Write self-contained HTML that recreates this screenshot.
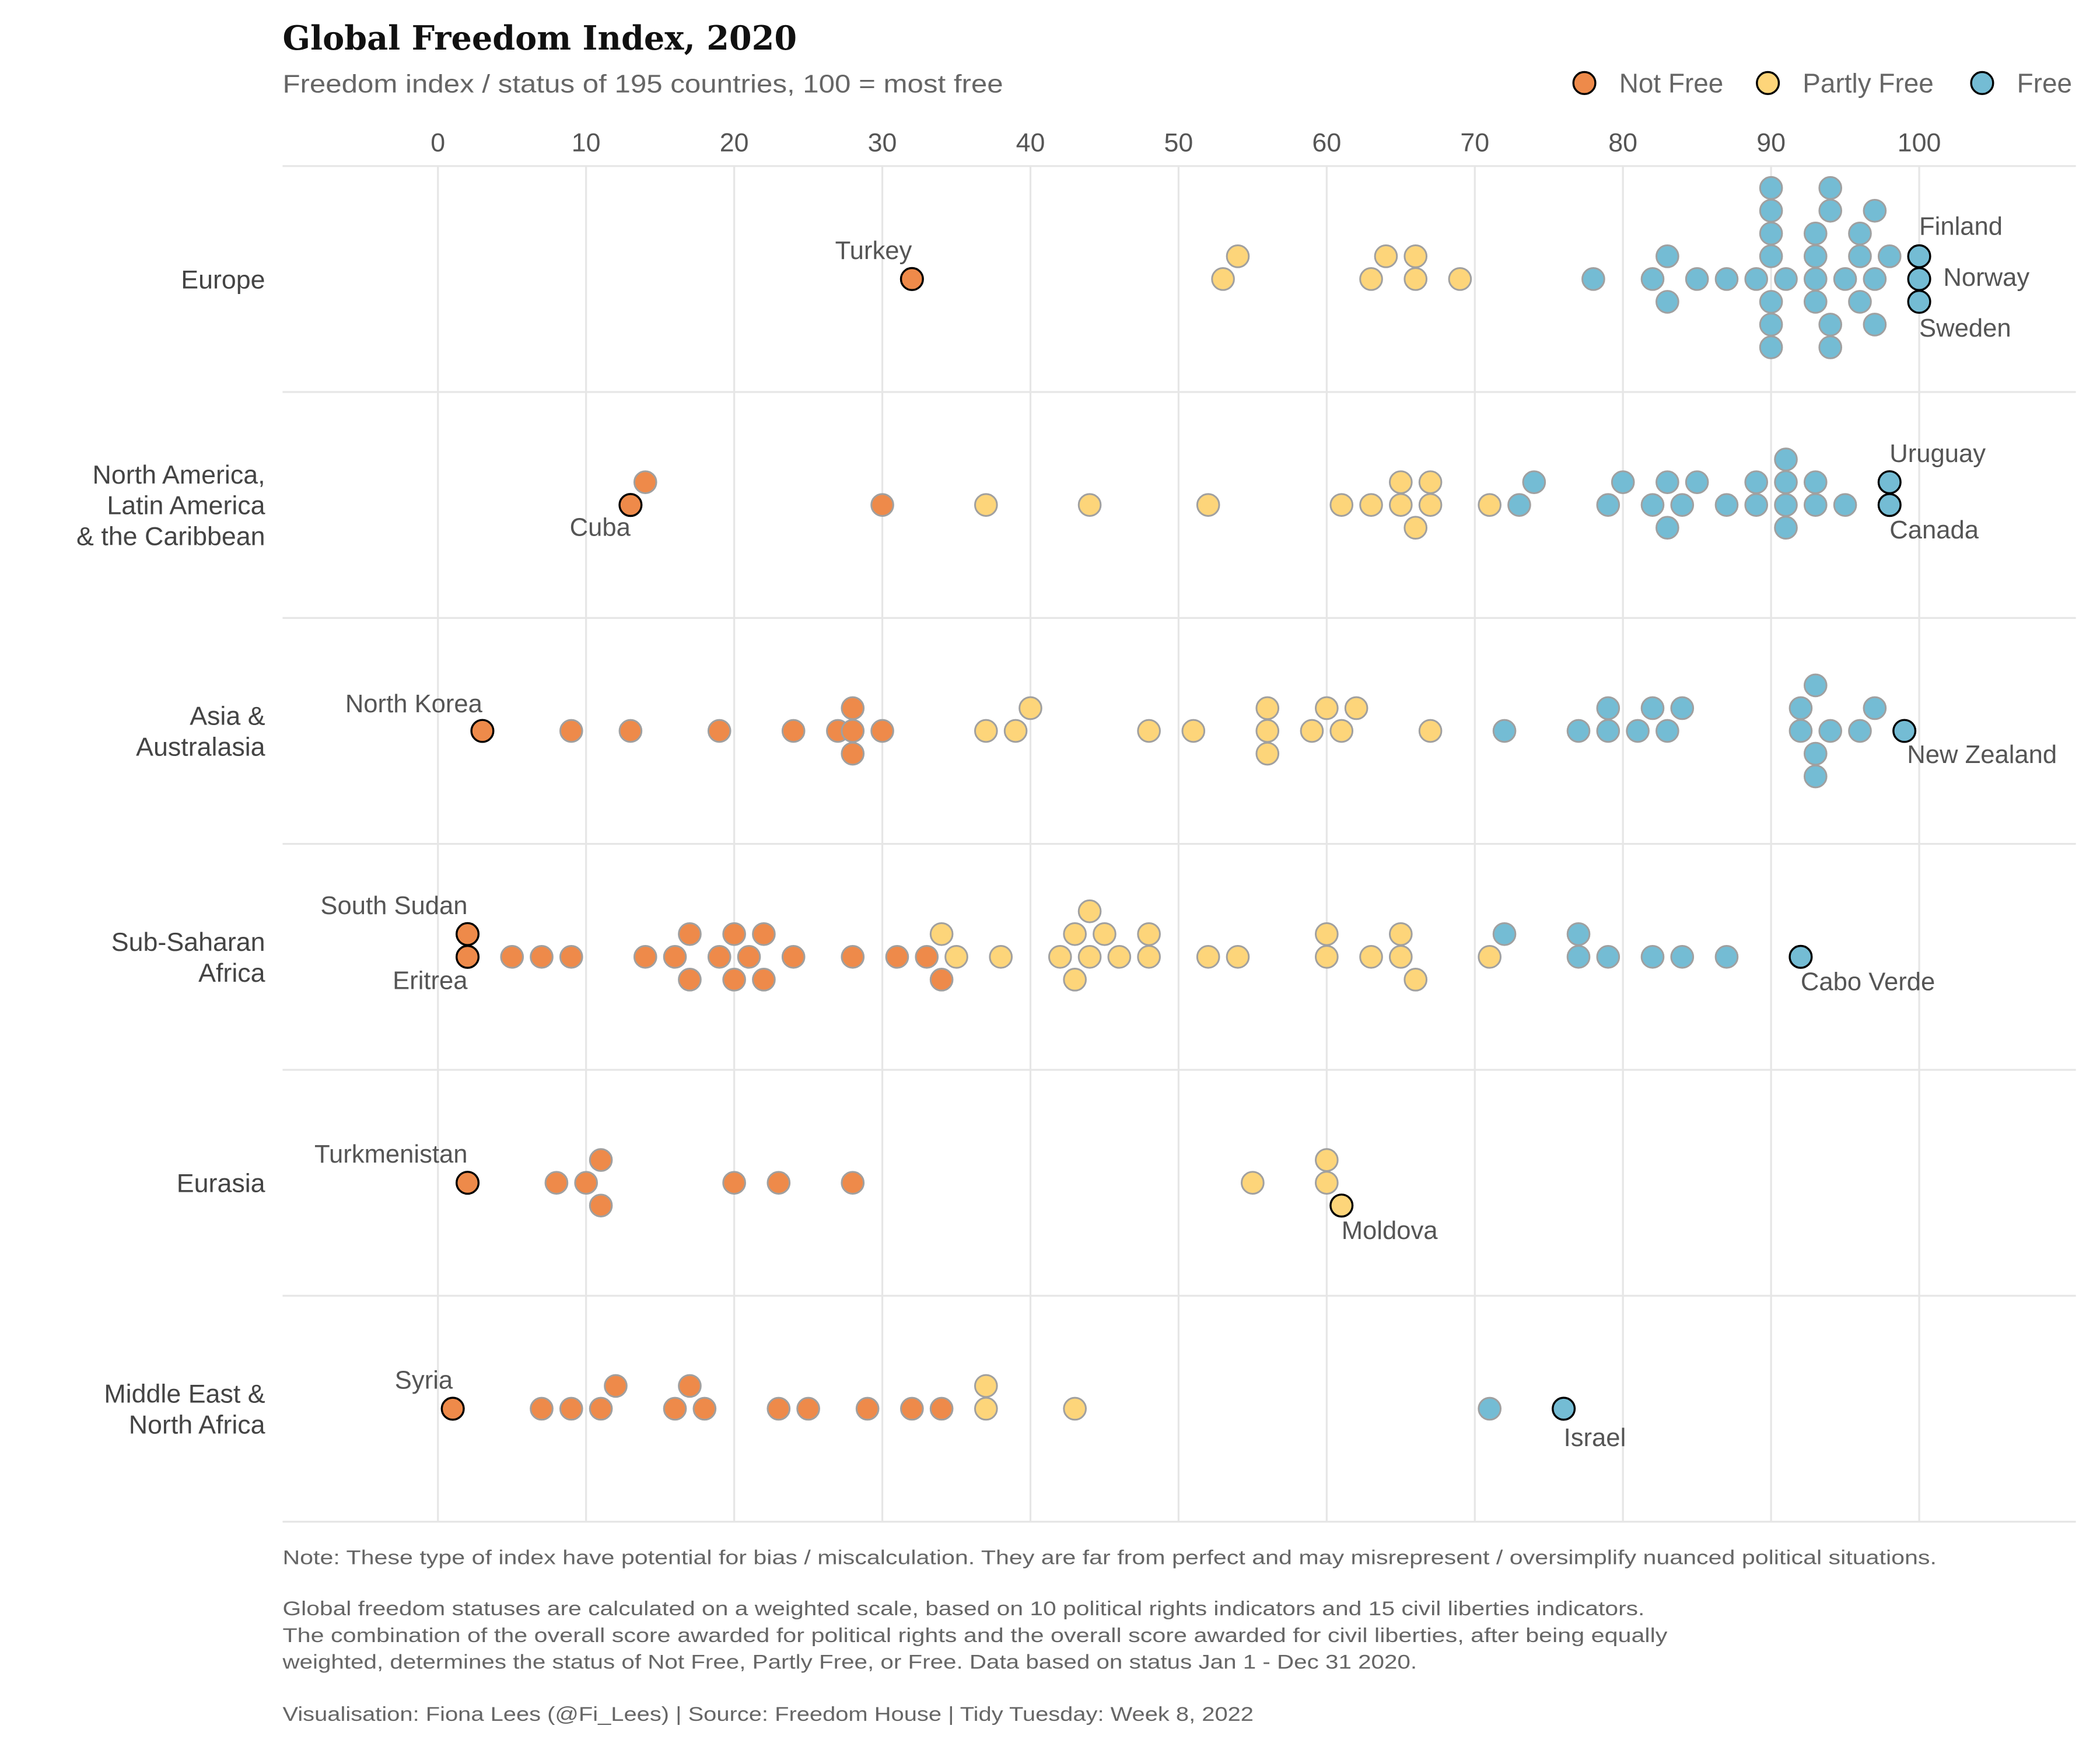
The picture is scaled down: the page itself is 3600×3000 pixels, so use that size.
<!DOCTYPE html>
<html><head><meta charset="utf-8"><style>
html,body{margin:0;padding:0;background:#fff}
svg{display:block}
text{font-family:"Liberation Sans",sans-serif}
</style></head><body>
<svg id="chart" width="3600" height="3000" viewBox="0 0 1568 1306.67" preserveAspectRatio="none" xmlns="http://www.w3.org/2000/svg">
<text x="211" y="37" style="font-family:'DejaVu Serif','Liberation Serif',serif" font-weight="bold" font-size="25" fill="#111" textLength="384" lengthAdjust="spacingAndGlyphs">Global Freedom Index, 2020</text>
<text x="211" y="69" font-size="19" fill="#666" textLength="538" lengthAdjust="spacingAndGlyphs">Freedom index / status of 195 countries, 100 = most free</text>
<g id="legend"></g>
<g id="grid"></g>
<g id="marks"></g>
<g font-size="15" fill="#666">
<text x="211" y="1168" textLength="1235" lengthAdjust="spacingAndGlyphs">Note: These type of index have potential for bias / miscalculation. They are far from perfect and may misrepresent / oversimplify nuanced political situations.</text>
<text x="211" y="1206" textLength="1017" lengthAdjust="spacingAndGlyphs">Global freedom statuses are calculated on a weighted scale, based on 10 political rights indicators and 15 civil liberties indicators.</text>
<text x="211" y="1226" textLength="1034" lengthAdjust="spacingAndGlyphs">The combination of the overall score awarded for political rights and the overall score awarded for civil liberties, after being equally</text>
<text x="211" y="1246" textLength="847" lengthAdjust="spacingAndGlyphs">weighted, determines the status of Not Free, Partly Free, or Free. Data based on status Jan 1 - Dec 31 2020.</text>
<text x="211" y="1285" textLength="725" lengthAdjust="spacingAndGlyphs">Visualisation: Fiona Lees (@Fi_Lees) | Source: Freedom House | Tidy Tuesday: Week 8, 2022</text>
</g>
</svg>
<script>
const regions = ["Europe","North America,|Latin America|& the Caribbean","Asia &|Australasia","Sub-Saharan|Africa","Eurasia","Middle East &|North Africa"];
const xTicks = [0,10,20,30,40,50,60,70,80,90,100];
const statusNames = ["Not Free","Partly Free","Free"];
// Europe
const eurScore = [54,53,64,66,63,66,69, 78,82,83,83,85,87,89, 90,90,90,90,90,90,90, 91, 93,93,93,93, 94,94,94,94, 95, 96,96,96, 97,97,97, 98];
const eurLevel = [-1,0,-1,-1,0,0,0, 0,0,-1,1,0,0,0, -4,-3,-2,-1,1,2,3, 0, -2,-1,0,1, -4,-3,2,3, 0, -2,-1,1, -3,0,2, -1];
const eurStatus = "PPPPPPPFFFFFFFFFFFFFFFFFFFFFFFFFFFFFFF";
// North America, Latin America & Caribbean
const namScore = [14,30, 37,44,52,61,63,65,65,67,67,66,71, 73,74,79,80,82,83,83,84,85,87,89,89,91,91,91,91,93,93,95];
const namLevel = [-1,0, 0,0,0,0,0,-1,0,-1,0,1,0, 0,-1,0,-1,0,-1,1,0,-1,0,-1,0,-2,-1,0,1,-1,0,0];
const namStatus = "NNPPPPPPPPPPPFFFFFFFFFFFFFFFFFFF";
// Asia & Australasia
const asiScore = [9,13,19,24,27,28,28,28,30, 37,39,40,48,51,56,56,56,59,60,61,62,67, 72,77,79,79,81,82,83,84,92,92,93,93,93,94,96,97];
const asiLevel = [0,0,0,0,0,-1,0,1,0, 0,0,-1,0,0,-1,0,1,0,-1,0,-1,0, 0,0,-1,0,0,-1,0,-1,-1,0,-2,1,2,0,0,-1];
const asiStatus = "NNNNNNNNNPPPPPPPPPPPPPFFFFFFFFFFFFFFFF";
// Sub-Saharan Africa
const ssaScore = [5,7,9,14,16,17,17,19,20,20,21,22,22,24,28,31,33,34, 34,35,38,42,43,43,44,44,45,46,48,48,52,54,60,60,63,65,65,66,71, 72,77,77,79,82,84,87];
const ssaLevel = [0,0,0,0,0,-1,1,0,-1,1,0,-1,1,0,0,0,0,1, -1,0,0,0,-1,1,-2,0,-1,0,-1,0,0,0,-1,0,0,-1,0,1,0, -1,-1,0,0,0,0,0];
const ssaStatus = "NNNNNNNNNNNNNNNNNNPPPPPPPPPPPPPPPPPPPPPFFFFFFF";
// Eurasia
const eurasScore = [8,10,11,11,20,23,28, 55,60,60];
const eurasLevel = [0,0,-1,1,0,0,0, 0,-1,0];
const eurasStatus = "NNNNNNNPPP";
// Middle East & North Africa
const menaScore = [7,9,11,12,16,17,18,23,25,29,32,34, 37,37,43, 71];
const menaLevel = [0,0,0,-1,0,-1,0,0,0,0,0,0, -1,0,0, 0];
const menaStatus = "NNNNNNNNNNNNPPPF";
// highlighted countries
const hlName = ["Turkey","Finland","Norway","Sweden","Cuba","Uruguay","Canada","North Korea","New Zealand","South Sudan","Eritrea","Cabo Verde","Turkmenistan","Moldova","Syria","Israel"];
const hlRegion = [0,0,0,0,1,1,1,2,2,3,3,3,4,4,5,5];
const hlScore = [32,100,100,100,13,98,98,3,99,2,2,92,2,61,1,76];
const hlLevel = [0,-1,0,1,0,-1,0,0,0,-1,0,0,0,1,0,0];
const hlStatus = "NFFFNFFNFNNFNPNF";
// label placement (style only)
const hlAnchor = ["end","start","start","start","end","start","start","end","start","end","end","start","end","start","end","start"];
const hlDx = [0,0,18,0,0,0,0,0,2,0,0,0,0,0,0,0];
const hlDy = [-15,-16,5,26,23,-15,25,-14,24,-15,24,25,-15,25,-15,28];

const regionScores=[eurScore,namScore,asiScore,ssaScore,eurasScore,menaScore];
const regionLevels=[eurLevel,namLevel,asiLevel,ssaLevel,eurasLevel,menaLevel];
const regionStatus=[eurStatus,namStatus,asiStatus,ssaStatus,eurasStatus,menaStatus];

const NS="http://www.w3.org/2000/svg";
const fills={N:"#EE8A4A",P:"#FDD57A",F:"#74BCD4"};
const X0=327,X1=1433,plotL=211,plotR=1550,top0=124,rowH=168.7,step=17,R=8.2;
const xs=v=>X0+(X1-X0)*v/100;
const yr=(r,l)=>top0+rowH*(r+0.5)+l*step;
function el(tag,attrs,parent){const e=document.createElementNS(NS,tag);for(const k in attrs)e.setAttribute(k,attrs[k]);parent.appendChild(e);return e;}
const grid=document.getElementById('grid'),marks=document.getElementById('marks'),legend=document.getElementById('legend');
xTicks.forEach(t=>{
  const l=el('line',{x1:xs(t),x2:xs(t),y1:top0,y2:top0+rowH*6,stroke:'#e6e6e6','stroke-width':1.4},grid);
  
  
  const tx=el('text',{x:xs(t),y:113,'text-anchor':'middle','font-size':19.5,fill:'#555'},grid);
  
  
  tx.textContent=t;
});
for(let i=0;i<=6;i++){
  const l=el('line',{x1:plotL,x2:plotR,y1:top0+rowH*i,y2:top0+rowH*i,stroke:'#e6e6e6','stroke-width':1.4},grid);
  
  
}
regions.forEach((r,i)=>{
  const lines=r.split('|');
  const t=el('text',{x:198,'text-anchor':'end','font-size':19.5,fill:'#444'},grid);
  
  
  const cy=yr(i,0);
  lines.forEach((s,j)=>{const ts=el('tspan',{x:198,y:cy+7+(j-(lines.length-1)/2)*23},t);ts.textContent=s;});
});
regionScores.forEach((sc,r)=>{
  for(let i=0;i<sc.length;i++){
    const c=el('circle',{cx:xs(sc[i]),cy:yr(r,regionLevels[r][i]),r:R,fill:fills[regionStatus[r][i]],stroke:'#a0a0a0','stroke-width':1.3},marks);
    
    
  }
});
for(let i=0;i<hlName.length;i++){
  const cx=xs(hlScore[i]),cy=yr(hlRegion[i],hlLevel[i]);
  const c=el('circle',{cx:cx,cy:cy,r:R,fill:fills[hlStatus[i]],stroke:'#000','stroke-width':1.5},marks);
  
  
  const t=el('text',{x:cx+hlDx[i],y:cy+hlDy[i],'text-anchor':hlAnchor[i],'font-size':19,fill:'#555'},marks);
  
  
  t.textContent=hlName[i];
}
const legX=[1183,1320,1480];
const legKey=["N","P","F"];
statusNames.forEach((s,i)=>{
  const c=el('circle',{cx:legX[i],cy:62,r:R,fill:fills[legKey[i]],stroke:'#000','stroke-width':1.5},legend);
  
  
  const t=el('text',{x:legX[i]+26,y:69,'font-size':20,fill:'#666'},legend);
  
  
  t.textContent=s;
});
</script>
</body></html>
